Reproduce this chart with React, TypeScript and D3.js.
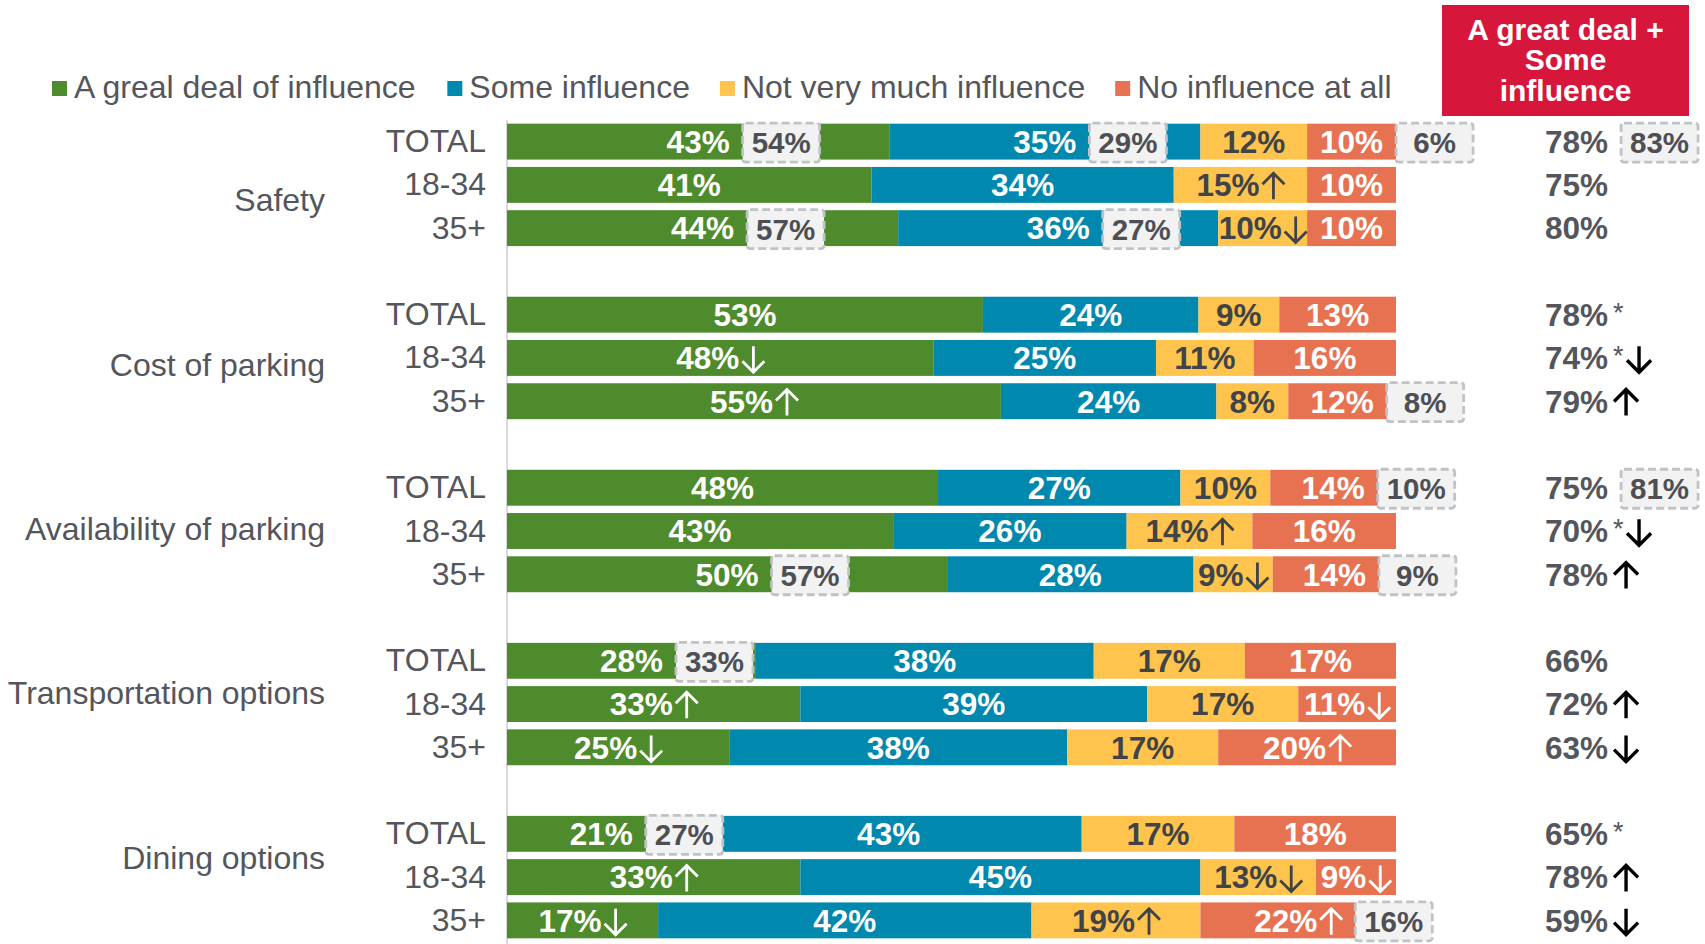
import React from "react";
import * as d3 from "d3";

// ---- data ----
const groups = ["Safety", "Cost of parking", "Availability of parking", "Transportation options", "Dining options"];
const subgroups = ["TOTAL", "18-34", "35+"];
const seriesNames = ["A greal deal of influence", "Some influence", "Not very much influence", "No influence at all"];
const seriesColors = ["#4e8b2c", "#0088ae", "#ffc44d", "#e77251"];

// one entry per row: Safety TOTAL, 18-34, 35+, Cost TOTAL, ...
const greatDeal = [43, 41, 44, 53, 48, 55, 48, 43, 50, 28, 33, 25, 21, 33, 17];
const someInfl = [35, 34, 36, 24, 25, 24, 27, 26, 28, 38, 39, 38, 43, 45, 42];
const notVeryMuch = [12, 15, 10, 9, 11, 8, 10, 14, 9, 17, 17, 17, 17, 13, 19];
const noInfl = [10, 10, 10, 13, 16, 12, 14, 16, 14, 17, 11, 20, 18, 9, 22];

// significance arrows ("" | "up" | "down")
const greatDealSig = ["", "", "", "", "down", "up", "", "", "", "", "up", "down", "", "up", "down"];
const someInflSig = ["", "", "", "", "", "", "", "", "", "", "", "", "", "", ""];
const notVeryMuchSig = ["", "up", "down", "", "", "", "", "up", "down", "", "", "", "", "down", "up"];
const noInflSig = ["", "", "", "", "", "", "", "", "", "", "down", "up", "", "down", "up"];

// "A great deal + Some influence" column
const netTotal = [78, 75, 80, 78, 74, 79, 75, 70, 78, 66, 72, 63, 65, 78, 59];
const netStar = [false, false, false, true, true, false, false, true, false, false, false, false, true, false, false];
const netSig = ["", "", "", "", "down", "up", "", "down", "up", "", "up", "down", "", "up", "down"];

// comparison values in dashed boxes: row, segment (4 = net column), text
const calloutRows = [0, 0, 0, 0, 2, 2, 5, 6, 6, 8, 8, 9, 12, 14];
const calloutSegs = [0, 1, 3, 4, 0, 1, 3, 3, 4, 0, 3, 0, 0, 3];
const calloutTexts = ["54%", "29%", "6%", "83%", "57%", "27%", "8%", "10%", "81%", "57%", "9%", "33%", "27%", "16%"];

const headerLines = ["A great deal +", "Some", "influence"];

const FONT = "'Liberation Sans', Arial, Helvetica, sans-serif";
const W = 1705;
const H = 944;

const measureCtx = document.createElement("canvas").getContext("2d");
function textWidth(t: string, size: number, weight: string) {
  if (!measureCtx) return t.length * size * 0.55;
  measureCtx.font = `${weight} ${size}px ${FONT}`;
  return measureCtx.measureText(t).width;
}

function arrowPath(x: number, baseline: number, dir: string, w: number) {
  const top = baseline - 23;
  const bot = baseline + 3;
  const cx = x + w / 2;
  const h = w / 2;
  if (dir === "up") {
    return `M${cx},${bot}L${cx},${top + 1}M${cx - h},${top + h}L${cx},${top}L${cx + h},${top + h}`;
  }
  return `M${cx},${top}L${cx},${bot - 1}M${cx - h},${bot - h}L${cx},${bot}L${cx + h},${bot - h}`;
}

const keys = ["g", "s", "n", "f"];
const sigs = [greatDealSig, someInflSig, notVeryMuchSig, noInflSig];

const rows = greatDeal.map((v, i) => ({
  idx: i,
  slot: Math.floor(i / 3) * 4 + (i % 3),
  group: groups[Math.floor(i / 3)],
  sub: subgroups[i % 3],
  g: v,
  s: someInfl[i],
  n: notVeryMuch[i],
  f: noInfl[i],
}));

const App = () => {
  const plotTop = 120;
  const plotBottom = 942;
  const x = d3.scaleLinear().domain([0, 1]).range([507, 1396]);
  const y = d3
    .scaleBand<number>()
    .domain(d3.range(19))
    .range([plotTop, plotBottom])
    .paddingInner(0.17)
    .paddingOuter(0.085);
  const yGroup = d3.scaleBand<string>().domain(groups).range([plotTop, plotBottom]);

  const stacked = d3
    .stack<any>()
    .keys(keys)
    .offset(d3.stackOffsetExpand)(rows);

  const bw = y.bandwidth();
  const rowCenter = (i: number) => (y(rows[i].slot) as number) + bw / 2;

  const labelSize = 31.5;
  const axisSize = 32;
  const arrowW = 22;
  const netX = 1545;

  // right end of each label, used to place the dashed boxes
  const labelRight: number[][] = rows.map(() => [0, 0, 0, 0, 0]);

  const segLabels: any[] = [];
  stacked.forEach((layer, k) => {
    layer.forEach((d, i) => {
      const value = (rows[i] as any)[keys[k]];
      const txt = value + "%";
      const sig = sigs[k][i];
      const tw = textWidth(txt, labelSize, "bold");
      const total = tw + (sig ? 3 + arrowW : 0);
      const cx = (x(d[0]) + x(d[1])) / 2;
      const x0 = cx - total / 2;
      labelRight[i][k] = x0 + total;
      segLabels.push({ k, i, txt, sig, x0, tw, color: k === 2 ? "#404348" : "#ffffff" });
    });
  });

  const netLabels = rows.map((r, i) => {
    const txt = netTotal[i] + "%";
    const tw = textWidth(txt, labelSize, "bold");
    let cursor = netX + tw;
    const starX = cursor + 5;
    if (netStar[i]) cursor = starX + 11;
    const arrowX = cursor + (netStar[i] ? 3 : 6);
    labelRight[i][4] = netX + tw;
    return { i, txt, starX, arrowX };
  });

  // legend layout
  const legendSize = 32;
  let lx = 52;
  const legend = seriesNames.map((name, k) => {
    const item = { name, color: seriesColors[k], x: lx };
    lx += 15 + 7 + textWidth(name, legendSize, "normal") + 30;
    return item;
  });

  const boxW = 77;
  const boxH = 39;

  return (
    <svg
      width={W}
      height={H}
      style={{ position: "absolute", left: 0, top: 0, fontFamily: FONT }}
    >
      <rect width={W} height={H} fill="#ffffff" />

      {/* legend */}
      {legend.map((l) => (
        <g key={l.name}>
          <rect x={l.x} y={81} width={15} height={15} fill={l.color} />
          <text x={l.x + 22} y={97.5} fontSize={legendSize} fill="#54565b">
            {l.name}
          </text>
        </g>
      ))}

      {/* header box */}
      <rect x={1442} y={5} width={247} height={111} fill="#d6163a" />
      {headerLines.map((t, j) => (
        <text
          key={t}
          x={1565.5}
          y={39.5 + j * 30.5}
          fontSize={30}
          fontWeight="bold"
          fill="#ffffff"
          textAnchor="middle"
        >
          {t}
        </text>
      ))}

      {/* axis line */}
      <line x1={507} x2={507} y1={plotTop} y2={H} stroke="#d9d9d9" strokeWidth={2} />

      {/* group labels */}
      {groups.map((g) => (
        <text
          key={g}
          x={325}
          y={(yGroup(g) as number) + yGroup.bandwidth() / 2 + 9}
          fontSize={axisSize}
          fill="#54565b"
          textAnchor="end"
        >
          {g}
        </text>
      ))}

      {/* row labels */}
      {rows.map((r, i) => (
        <text
          key={"sub" + i}
          x={486}
          y={rowCenter(i) + 10.5}
          fontSize={axisSize}
          fill="#54565b"
          textAnchor="end"
        >
          {r.sub}
        </text>
      ))}

      {/* bars */}
      {stacked.map((layer, k) => (
        <g key={keys[k]} fill={seriesColors[k]}>
          {layer.map((d, i) => (
            <rect
              key={i}
              x={x(d[0])}
              y={y(rows[i].slot)}
              width={x(d[1]) - x(d[0])}
              height={bw}
            />
          ))}
        </g>
      ))}

      {/* segment labels */}
      {segLabels.map((s) => {
        const base = rowCenter(s.i) + 11.3;
        return (
          <g key={s.k + "-" + s.i}>
            <text x={s.x0} y={base} fontSize={labelSize} fontWeight="bold" fill={s.color}>
              {s.txt}
            </text>
            {s.sig && (
              <path
                d={arrowPath(s.x0 + s.tw + 3, base, s.sig, arrowW)}
                fill="none"
                stroke={s.color}
                strokeWidth={2.8}
              />
            )}
          </g>
        );
      })}

      {/* net column */}
      {netLabels.map((n) => {
        const base = rowCenter(n.i) + 11.3;
        return (
          <g key={"net" + n.i}>
            <text x={netX} y={base} fontSize={labelSize} fontWeight="bold" fill="#54565b">
              {n.txt}
            </text>
            {netStar[n.i] && (
              <text x={n.starX} y={base - 4} fontSize={27} fill="#54565b">
                *
              </text>
            )}
            {netSig[n.i] && (
              <path
                d={arrowPath(n.arrowX, base, netSig[n.i], 24)}
                fill="none"
                stroke="#000000"
                strokeWidth={3.4}
              />
            )}
          </g>
        );
      })}

      {/* dashed comparison boxes */}
      {calloutTexts.map((t, c) => {
        const i = calloutRows[c];
        const bx = labelRight[i][calloutSegs[c]] + 13;
        const cy = rowCenter(i) + 1;
        return (
          <g key={"co" + c}>
            <rect
              x={bx}
              y={cy - boxH / 2}
              width={boxW}
              height={boxH}
              rx={3}
              fill="#f2f2f2"
              stroke="#bfc3c8"
              strokeWidth={2.8}
              strokeDasharray="8 4"
            />
            <text
              x={bx + boxW / 2}
              y={cy + 10.5}
              fontSize={29.5}
              fontWeight="bold"
              fill="#4d4f55"
              textAnchor="middle"
            >
              {t}
            </text>
          </g>
        );
      })}
    </svg>
  );
};

export default App;
